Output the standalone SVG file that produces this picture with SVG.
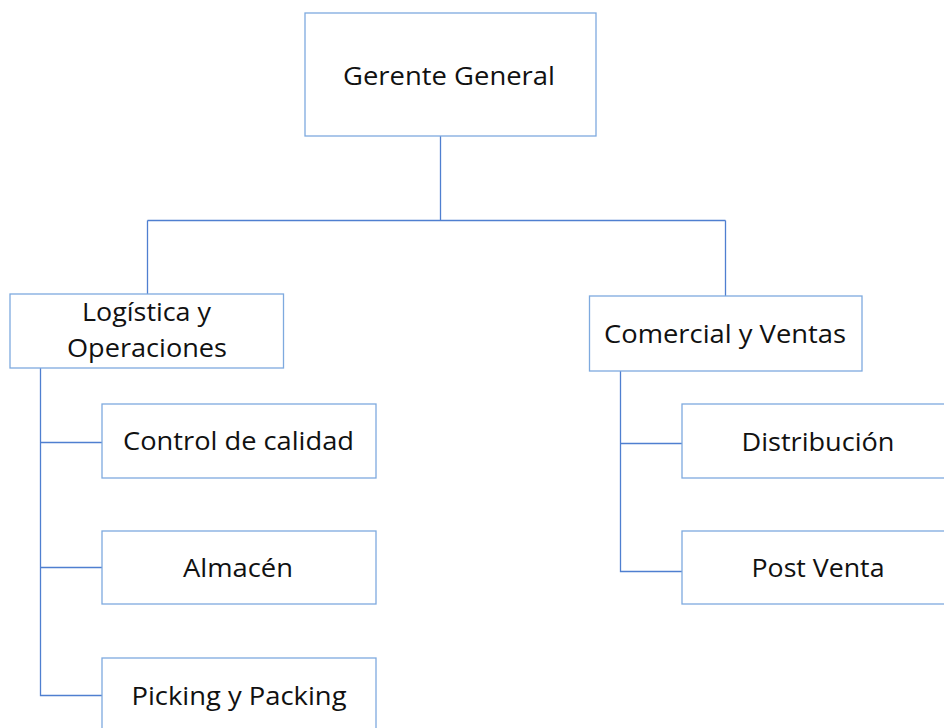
<svg xmlns="http://www.w3.org/2000/svg" width="944" height="728" viewBox="0 0 944 728">
<style>
.box{fill:#ffffff;stroke:#7EAADF;stroke-width:1.3}
.lbl{font-family:"Open Sans","Noto Sans","Liberation Sans",sans-serif;font-size:26px;fill:#111111;text-anchor:middle}
.con{fill:none;stroke:#4F7FD0;stroke-width:1.3}
</style>
<rect width="944" height="728" fill="#ffffff"/>
<g id="connectors">
<path class="con" d="M440.5,136 V220.5 M147.5,220.5 H725.5 M147.5,220.5 V294 M725.5,220.5 V296"/>
<path class="con" d="M40.5,368 V695.5 H102 M40.5,442.5 H102 M40.5,567.5 H102"/>
<path class="con" d="M620.5,371 V571.5 H682 M620.5,443.5 H682"/>
</g>
<g id="gerente">
<rect class="box" x="305" y="13" width="291" height="123"/>
<text class="lbl" x="449" y="85" textLength="212" lengthAdjust="spacingAndGlyphs">Gerente General</text>
</g>
<g id="logistica">
<rect class="box" x="10" y="294" width="273.5" height="74"/>
<text class="lbl" x="146.5" y="321" textLength="129" lengthAdjust="spacingAndGlyphs">Logística y</text>
<text class="lbl" x="147" y="357" textLength="160" lengthAdjust="spacingAndGlyphs">Operaciones</text>
</g>
<g id="comercial">
<rect class="box" x="589.5" y="296" width="272.5" height="75"/>
<text class="lbl" x="725" y="343" textLength="242" lengthAdjust="spacingAndGlyphs">Comercial y Ventas</text>
</g>
<g id="control">
<rect class="box" x="102" y="404" width="274" height="74"/>
<text class="lbl" x="238.5" y="450" textLength="231" lengthAdjust="spacingAndGlyphs">Control de calidad</text>
</g>
<g id="almacen">
<rect class="box" x="102" y="531" width="274" height="73"/>
<text class="lbl" x="238" y="577" textLength="110" lengthAdjust="spacingAndGlyphs">Almacén</text>
</g>
<g id="picking">
<rect class="box" x="102" y="658" width="274" height="80"/>
<text class="lbl" x="239" y="705" textLength="215" lengthAdjust="spacingAndGlyphs">Picking y Packing</text>
</g>
<g id="distribucion">
<rect class="box" x="682" y="404" width="274" height="74"/>
<text class="lbl" x="818" y="451" textLength="153" lengthAdjust="spacingAndGlyphs">Distribución</text>
</g>
<g id="postventa">
<rect class="box" x="682" y="531" width="274" height="73"/>
<text class="lbl" x="818" y="577" textLength="133" lengthAdjust="spacingAndGlyphs">Post Venta</text>
</g>
</svg>
